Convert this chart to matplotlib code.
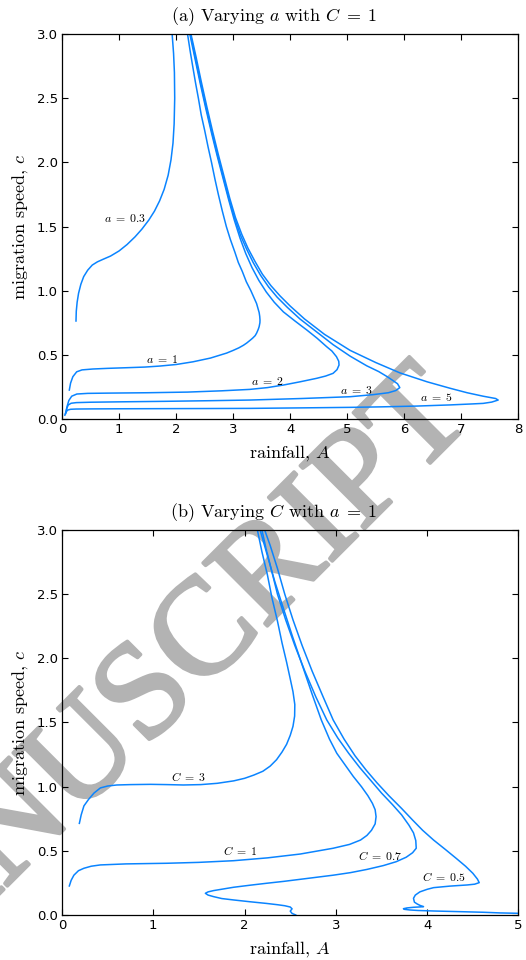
import matplotlib
matplotlib.use("Agg")
import matplotlib.pyplot as plt
import matplotlib.patheffects as pe

# ===============================
# DATA, points as (A, c)
# ===============================
# (a) varying a with C = 1
curve_a03 = [(0.245, 0.764), (0.25, 0.84), (0.265, 0.91), (0.29, 0.98), (0.33, 1.05), (0.38, 1.11),
             (0.45, 1.16), (0.53, 1.20), (0.62, 1.225), (0.72, 1.245), (0.85, 1.27), (1.0, 1.31),
             (1.14, 1.36), (1.28, 1.42), (1.40, 1.48), (1.52, 1.55), (1.62, 1.62), (1.71, 1.70),
             (1.79, 1.79), (1.86, 1.90), (1.91, 2.02), (1.945, 2.15), (1.965, 2.30), (1.975, 2.50),
             (1.97, 2.70), (1.955, 2.85), (1.93, 3.0)]

curve_a1 = [(0.128, 0.226), (0.15, 0.28), (0.19, 0.33), (0.257, 0.368), (0.35, 0.383), (0.543, 0.39),
            (0.8, 0.395), (1.133, 0.40), (1.45, 0.405), (1.717, 0.413), (2.0, 0.425), (2.295, 0.446),
            (2.6, 0.475), (2.885, 0.514), (3.0, 0.535), (3.1, 0.555), (3.18, 0.575), (3.236, 0.592),
            (3.3, 0.615), (3.34, 0.63), (3.385, 0.65), (3.411, 0.67), (3.44, 0.7), (3.455, 0.72),
            (3.468, 0.75), (3.47, 0.771), (3.465, 0.80), (3.455, 0.83), (3.41, 0.9), (3.36, 0.95),
            (3.31, 1.0), (3.23, 1.07), (3.16, 1.15), (3.09, 1.22), (3.03, 1.3), (2.95, 1.4),
            (2.88, 1.5), (2.81, 1.62), (2.74, 1.75), (2.68, 1.87), (2.62, 2.0), (2.56, 2.12),
            (2.5, 2.25), (2.44, 2.37), (2.39, 2.5), (2.34, 2.62), (2.29, 2.75), (2.245, 2.87),
            (2.2, 3.0)]

curve_a2 = [(0.07, 0.05), (0.09, 0.1), (0.12, 0.145), (0.17, 0.178), (0.26, 0.195), (0.45, 0.2),
            (0.8, 0.202), (1.5, 0.205), (2.2, 0.21), (2.8, 0.22), (3.29, 0.231), (3.6, 0.245),
            (3.88, 0.265), (4.17, 0.29), (4.46, 0.317), (4.62, 0.335), (4.75, 0.356), (4.82, 0.385),
            (4.855, 0.421), (4.85, 0.45), (4.81, 0.486), (4.73, 0.53), (4.64, 0.563), (4.47, 0.63),
            (4.29, 0.694), (4.08, 0.765), (3.88, 0.835), (3.72, 0.91), (3.58, 0.99), (3.45, 1.08),
            (3.33, 1.18), (3.22, 1.29), (3.12, 1.41), (3.02, 1.55), (2.92, 1.71), (2.82, 1.88),
            (2.72, 2.05), (2.62, 2.23), (2.52, 2.42), (2.42, 2.62), (2.33, 2.81), (2.24, 3.0)]

curve_a3 = [(0.06, 0.04), (0.08, 0.08), (0.11, 0.11), (0.16, 0.123), (0.25, 0.128), (0.5, 0.131),
            (1.0, 0.134), (1.8, 0.138), (2.6, 0.143), (3.29, 0.148), (4.2, 0.16), (5.05, 0.174),
            (5.45, 0.19), (5.72, 0.205), (5.85, 0.222), (5.92, 0.245), (5.88, 0.275), (5.80, 0.30),
            (5.70, 0.33), (5.55, 0.37), (5.34, 0.415), (5.05, 0.49), (4.75, 0.58), (4.46, 0.68),
            (4.17, 0.78), (3.95, 0.87), (3.77, 0.95), (3.62, 1.03), (3.48, 1.12), (3.35, 1.22),
            (3.24, 1.32), (3.13, 1.43), (3.03, 1.56), (2.93, 1.71), (2.83, 1.88), (2.73, 2.05),
            (2.63, 2.23), (2.53, 2.42), (2.43, 2.62), (2.34, 2.81), (2.25, 3.0)]

curve_a5 = [(0.05, 0.03), (0.07, 0.055), (0.1, 0.07), (0.15, 0.076), (0.25, 0.078), (0.5, 0.079),
            (1.0, 0.08), (1.8, 0.081), (2.6, 0.082), (3.29, 0.083), (4.2, 0.087), (5.05, 0.091),
            (5.6, 0.095), (6.21, 0.101), (6.8, 0.11), (7.2, 0.118), (7.381, 0.122), (7.53, 0.132),
            (7.644, 0.148), (7.60, 0.16), (7.38, 0.178), (7.1, 0.205), (6.80, 0.24), (6.40, 0.29),
            (5.92, 0.36), (5.5, 0.44), (5.05, 0.535), (4.6, 0.66), (4.25, 0.78), (4.0, 0.88),
            (3.82, 0.96), (3.66, 1.04), (3.51, 1.13), (3.38, 1.23), (3.26, 1.33), (3.15, 1.44),
            (3.04, 1.57), (2.94, 1.72), (2.84, 1.89), (2.74, 2.06), (2.64, 2.24), (2.54, 2.43),
            (2.44, 2.63), (2.35, 2.82), (2.26, 3.0)]

# (b) varying C with a = 1
curve_C3 = [(0.19, 0.714), (0.21, 0.78), (0.24, 0.85), (0.29, 0.90), (0.35, 0.95), (0.42, 0.99),
            (0.5, 1.005), (0.6, 1.013), (0.75, 1.016), (0.97, 1.018), (1.15, 1.016), (1.33, 1.013),
            (1.52, 1.016), (1.70, 1.026), (1.88, 1.045), (2.0, 1.065), (2.1, 1.09), (2.2, 1.12),
            (2.28, 1.16), (2.35, 1.21), (2.41, 1.27), (2.46, 1.33), (2.50, 1.40), (2.53, 1.47),
            (2.548, 1.55), (2.55, 1.64), (2.53, 1.74), (2.50, 1.84), (2.46, 1.97), (2.41, 2.12),
            (2.36, 2.29), (2.30, 2.47), (2.25, 2.65), (2.19, 2.83), (2.14, 3.0)]

curve_C1 = [(0.08, 0.226), (0.1, 0.27), (0.13, 0.31), (0.18, 0.345), (0.24, 0.364), (0.32, 0.38),
            (0.42, 0.39), (0.7, 0.398), (1.15, 0.403), (1.5, 0.41), (1.88, 0.423), (2.25, 0.445),
            (2.61, 0.475), (2.97, 0.52), (3.15, 0.55), (3.27, 0.584), (3.34, 0.62), (3.39, 0.66),
            (3.43, 0.71), (3.44, 0.766), (3.43, 0.82), (3.40, 0.87), (3.35, 0.93), (3.28, 1.0),
            (3.19, 1.08), (3.10, 1.17), (3.01, 1.26), (2.93, 1.37), (2.84, 1.52), (2.74, 1.72),
            (2.63, 1.95), (2.52, 2.18), (2.42, 2.40), (2.33, 2.60), (2.25, 2.80), (2.17, 3.0)]

curve_C07 = [(2.56, 0.0), (2.52, 0.012), (2.50, 0.03), (2.52, 0.048), (2.50, 0.062), (2.44, 0.072),
             (2.36, 0.08), (2.24, 0.09), (2.06, 0.103), (1.88, 0.117), (1.75, 0.128), (1.66, 0.143),
             (1.60, 0.155), (1.57, 0.169), (1.60, 0.18), (1.66, 0.19), (1.77, 0.203), (1.88, 0.216),
             (2.06, 0.232), (2.24, 0.247), (2.43, 0.262), (2.61, 0.278), (2.79, 0.294), (2.97, 0.31),
             (3.16, 0.33), (3.34, 0.355), (3.52, 0.385), (3.66, 0.415), (3.77, 0.45), (3.84, 0.485),
             (3.88, 0.52), (3.875, 0.58), (3.85, 0.64), (3.80, 0.70), (3.72, 0.78), (3.62, 0.86),
             (3.50, 0.95), (3.38, 1.05), (3.26, 1.15), (3.14, 1.26), (3.02, 1.38), (2.90, 1.52),
             (2.78, 1.70), (2.66, 1.90), (2.55, 2.10), (2.45, 2.30), (2.36, 2.50), (2.29, 2.70),
             (2.23, 2.87), (2.19, 3.0)]

curve_C05 = [(5.0, 0.013), (4.8, 0.016), (4.62, 0.021), (4.35, 0.026), (4.07, 0.031), (3.90, 0.035),
             (3.81, 0.039), (3.75, 0.044), (3.74, 0.049), (3.78, 0.055), (3.85, 0.06), (3.93, 0.063),
             (3.96, 0.065), (3.92, 0.075), (3.89, 0.086), (3.86, 0.1), (3.85, 0.13), (3.87, 0.155),
             (3.92, 0.18), (4.0, 0.2), (4.07, 0.213), (4.25, 0.225), (4.44, 0.234), (4.52, 0.24),
             (4.57, 0.252), (4.55, 0.28), (4.50, 0.325), (4.42, 0.38), (4.32, 0.44), (4.20, 0.51),
             (4.07, 0.584), (3.95, 0.66), (3.84, 0.74), (3.72, 0.83), (3.58, 0.93), (3.45, 1.03),
             (3.33, 1.13), (3.21, 1.24), (3.09, 1.37), (2.97, 1.52), (2.86, 1.70), (2.74, 1.90),
             (2.63, 2.10), (2.53, 2.30), (2.44, 2.50), (2.36, 2.70), (2.28, 2.88), (2.22, 3.0)]

top_labels = [r"$a\;=\;0.3$", r"$a\;=\;1$", r"$a\;=\;2$", r"$a\;=\;3$", r"$a\;=\;5$"]
top_label_A = [1.10, 1.75, 3.59, 5.16, 6.56]
top_label_c = [1.566, 0.465, 0.29, 0.226, 0.164]

bot_labels = [r"$C\;=\;3$", r"$C\;=\;1$", r"$C\;=\;0.7$", r"$C\;=\;0.5$"]
bot_label_A = [1.39, 1.95, 3.49, 4.18]
bot_label_c = [1.07, 0.493, 0.454, 0.29]

# ===============================
# STYLE
# ===============================
plt.rcParams["mathtext.fontset"] = "cm"
plt.rcParams["font.family"] = "DejaVu Sans"
LINE = "#0a84ff"
SERIF = "cmr10"

fig = plt.figure(figsize=(5.26, 9.6), dpi=100)

# watermark behind everything
fig.text(0.262, 0.262, "MANUSCRIPT", rotation=45, ha="center", va="center",
         rotation_mode="anchor", fontsize=99, color="#b3b3b3",
         family="Liberation Serif", zorder=-1,
         path_effects=[pe.withStroke(linewidth=2.5, foreground="#b3b3b3")])

ax1 = fig.add_axes([0.1179, 0.5635, 0.8678, 0.401])
ax2 = fig.add_axes([0.1179, 0.0469, 0.8678, 0.401])

for pts in [curve_a03, curve_a1, curve_a2, curve_a3, curve_a5]:
    A, c = zip(*pts)
    ax1.plot(A, c, color=LINE, lw=1.1)
for pts in [curve_C3, curve_C1, curve_C07, curve_C05]:
    A, c = zip(*pts)
    ax2.plot(A, c, color=LINE, lw=1.1)

for lab, x, y in zip(top_labels, top_label_A, top_label_c):
    ax1.text(x, y, lab, fontsize=8.5, ha="center", va="center")
for lab, x, y in zip(bot_labels, bot_label_A, bot_label_c):
    ax2.text(x, y, lab, fontsize=8.5, ha="center", va="center")

ax1.set_xlim(0, 8)
ax2.set_xlim(0, 5)
ax1.set_title(r"(a) Varying $a$ with $C\;=\;1$", family=SERIF, fontsize=13, pad=9, x=0.464)
ax2.set_title(r"(b) Varying $C$ with $a\;=\;1$", family=SERIF, fontsize=13, pad=9, x=0.464)

for ax in (ax1, ax2):
    ax.set_facecolor("none")
    ax.set_ylim(0, 3)
    ax.set_yticks([0, 0.5, 1.0, 1.5, 2.0, 2.5, 3.0])
    ax.set_yticklabels(["0.0", "0.5", "1.0", "1.5", "2.0", "2.5", "3.0"])
    ax.tick_params(direction="in", top=True, right=True, length=4, width=0.8,
                   labelsize=9.5, pad=3)
    ax.set_xlabel(r"rainfall, $A$", family=SERIF, fontsize=13, labelpad=5)
    ax.set_ylabel(r"migration speed, $c$", family=SERIF, fontsize=13, labelpad=5)
    for s in ax.spines.values():
        s.set_linewidth(0.9)

fig.savefig("out.png", dpi=100)
